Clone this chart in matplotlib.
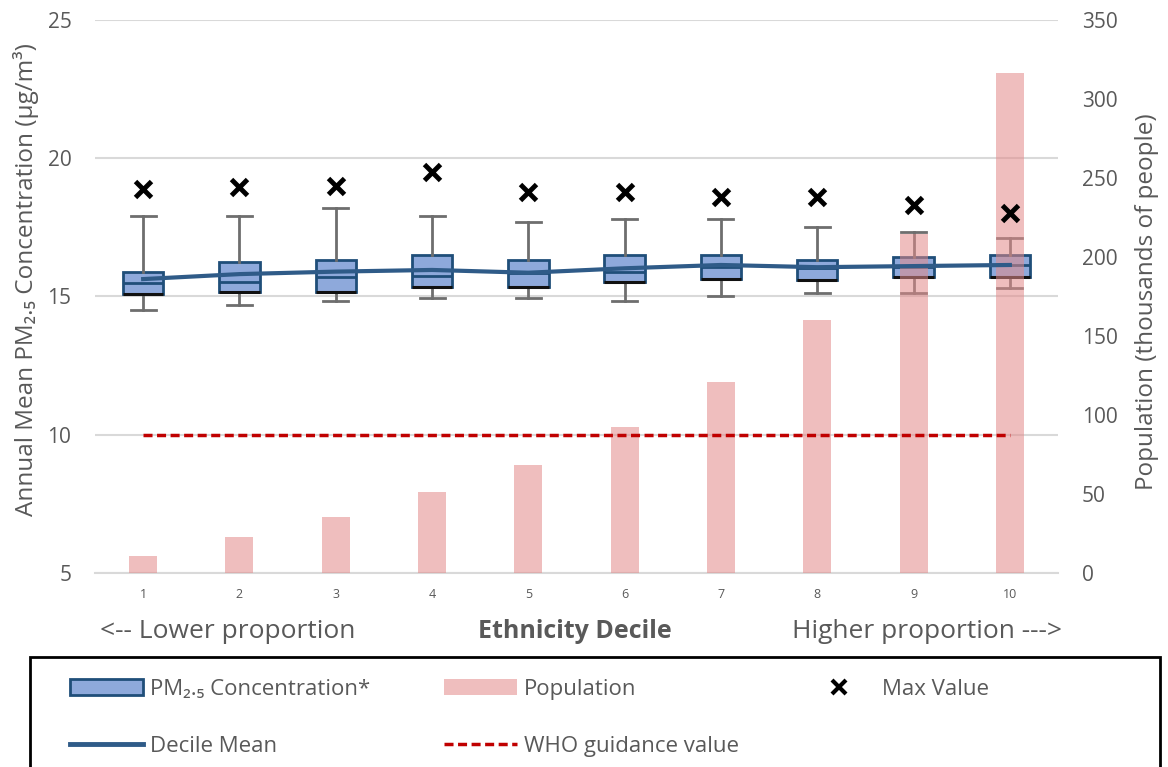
import matplotlib.pyplot as plt
from matplotlib.patches import Patch, Rectangle
from matplotlib.lines import Line2D

plt.rcParams['font.family'] = ['Open Sans', 'DejaVu Sans']

deciles = [1, 2, 3, 4, 5, 6, 7, 8, 9, 10]
q1 = [15.09, 15.17, 15.17, 15.36, 15.36, 15.51, 15.62, 15.60, 15.69, 15.69]
median = [15.48, 15.54, 15.72, 15.74, 15.85, 15.90, 16.08, 16.02, 16.08, 16.14]
q3 = [15.90, 16.26, 16.32, 16.50, 16.32, 16.50, 16.50, 16.32, 16.42, 16.49]
whisk_lo = [14.51, 14.70, 14.83, 14.93, 14.93, 14.84, 15.03, 15.12, 15.12, 15.32]
whisk_hi = [17.92, 17.92, 18.21, 17.92, 17.71, 17.79, 17.79, 17.53, 17.35, 17.10]
decile_mean = [15.63, 15.81, 15.90, 15.96, 15.86, 16.02, 16.14, 16.06, 16.10, 16.14]
max_value = [18.88, 18.97, 19.00, 19.51, 18.79, 18.79, 18.61, 18.61, 18.31, 18.01]
population = [10.8, 22.8, 35.4, 51.3, 68.4, 92.4, 120.9, 160.1, 214.4, 316.5]
who_guidance = 10

TXT = '#595959'
BOX_FACE = '#8EA9DB'
BOX_EDGE = '#1F4E79'
MEAN_COL = '#2F5B88'
BAR_COL = '#E38A8A'
WHO_COL = '#C00000'
WHO_DASH = (0, (2.6, 1.3))

fig = plt.figure(figsize=(11.68, 7.67), dpi=100)
ax = fig.add_axes([95 / 1168, 1 - 573 / 767, (1058 - 95) / 1168, (573 - 20) / 767])
ax2 = ax.twinx()

stats = []
for i in range(len(deciles)):
    stats.append(dict(med=median[i], q1=q1[i], q3=q3[i],
                      whislo=whisk_lo[i], whishi=whisk_hi[i], fliers=[]))
ax.bxp(stats, positions=deciles, widths=0.42, patch_artist=True, showfliers=False,
       boxprops=dict(facecolor=BOX_FACE, edgecolor=BOX_EDGE, linewidth=2),
       medianprops=dict(color=BOX_EDGE, linewidth=2),
       whiskerprops=dict(color='#6E6E6E', linewidth=2),
       capprops=dict(color='#6E6E6E', linewidth=2), capwidths=0.26)
# darker lower edge, like the shadow on the original boxes
ax.hlines(q1, [d - 0.21 for d in deciles], [d + 0.21 for d in deciles],
          color='#111111', linewidth=2.2, zorder=3)

ax.set_ylim(5, 25)
ax.set_xlim(0.5, 10.5)
ax.set_yticks([5, 10, 15, 20, 25])
ax.grid(axis='y', color='#D9D9D9', linewidth=1.5)
ax.set_axisbelow(True)
ax.set_xticks(deciles)
ax.set_xticklabels([str(d) for d in deciles], fontsize=9, color=TXT)
ax.tick_params(axis='y', labelsize=15, colors=TXT, length=0, pad=17)
ax.tick_params(axis='x', length=0, pad=11)
ax.set_ylabel('Annual Mean PM₂.₅ Concentration (µg/m³)', fontsize=17.5, color=TXT)
ax.yaxis.set_label_coords(-0.058, 0.530)
for s in ax.spines.values():
    s.set_visible(False)
ax.spines['bottom'].set_visible(True)
ax.spines['bottom'].set_color('#D9D9D9')
ax.spines['bottom'].set_linewidth(1.5)

ax2.bar(deciles, population, width=0.29, color=BAR_COL, alpha=0.55, zorder=1)
ax2.set_ylim(0, 350)
ax2.set_yticks(range(0, 351, 50))
ax2.tick_params(axis='y', labelsize=15, colors=TXT, length=0, pad=17)
ax2.set_ylabel('Population (thousands of people)', fontsize=17.5, color=TXT)
ax2.yaxis.set_label_coords(1.080, 0.49)
for s in ax2.spines.values():
    s.set_visible(False)

# line and markers live on the left scale but sit above the bars
ax2.plot(deciles, decile_mean, color=MEAN_COL, linewidth=3, transform=ax.transData, zorder=3)
ax2.plot(deciles, max_value, 'x', color='black', markersize=12, markeredgewidth=3.5,
         transform=ax.transData, zorder=4)
ax2.plot([deciles[0], deciles[-1]], [who_guidance, who_guidance], color=WHO_COL,
         linewidth=2.5, linestyle=WHO_DASH, transform=ax.transData, zorder=3)

fig.text(100 / 1168, 1 - 632 / 767, '<-- Lower proportion', fontsize=19, color=TXT, va='center')
fig.text(575 / 1168, 1 - 632 / 767, 'Ethnicity Decile', fontsize=18, color=TXT,
         va='center', ha='center', fontweight='bold')
fig.text(1062 / 1168, 1 - 632 / 767, 'Higher proportion --->', fontsize=19, color=TXT,
         va='center', ha='right')

fig.patches.append(Rectangle((30 / 1168, -0.05), 1130 / 1168, 0.05 + (767 - 657) / 767,
                             transform=fig.transFigure, fill=False,
                             edgecolor='black', linewidth=2))

columns = [
    ([Patch(facecolor=BOX_FACE, edgecolor=BOX_EDGE, linewidth=2),
      Line2D([], [], color=MEAN_COL, linewidth=3.5)],
     ['PM₂.₅ Concentration*', 'Decile Mean'], 70),
    ([Patch(facecolor=BAR_COL, alpha=0.55),
      Line2D([], [], color=WHO_COL, linewidth=2.5, linestyle=WHO_DASH)],
     ['Population', 'WHO guidance value'], 444),
    ([Line2D([], [], marker='x', color='black', linestyle='none', markersize=10,
             markeredgewidth=3)],
     ['Max Value'], 802),
]
for handles, labels, x0 in columns:
    leg = fig.legend(handles, labels, frameon=False, loc='upper left',
                     bbox_to_anchor=(x0 / 1168, 1 - 679 / 767), fontsize=16, labelcolor=TXT,
                     handlelength=3.3, handleheight=0.7, handletextpad=0.3,
                     labelspacing=1.6, borderpad=0, borderaxespad=0)

fig.savefig('out.png', dpi=100)
